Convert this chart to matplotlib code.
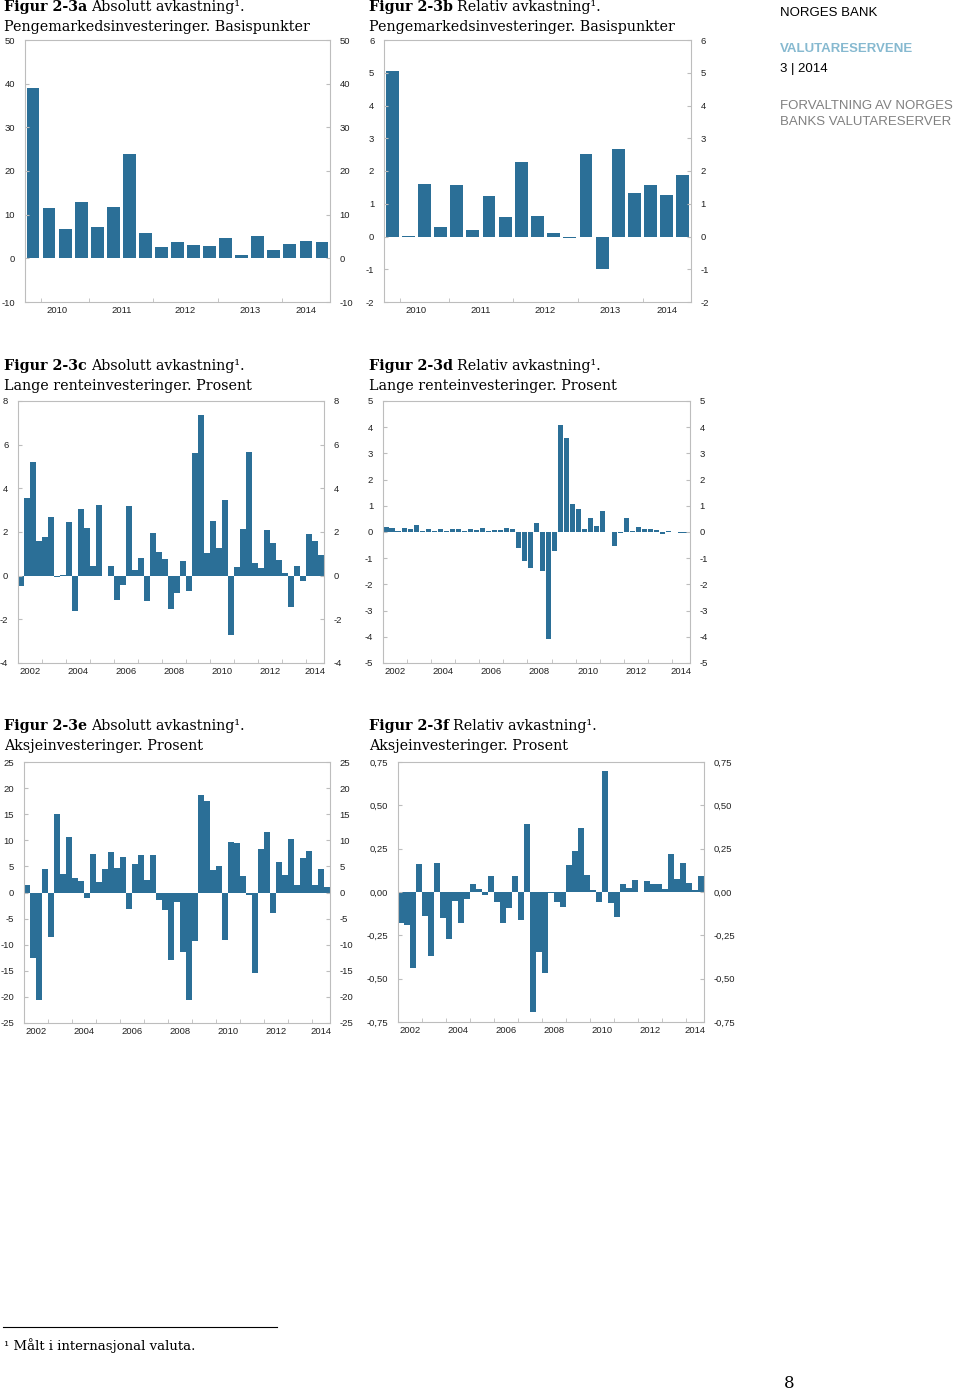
import matplotlib
matplotlib.use("Agg")
import matplotlib.pyplot as plt
import numpy as np

plt.rcParams["axes.unicode_minus"] = False

W, H = 960, 1391
BAR = "#2b6f97"
FRAME = "#bdbdbd"
SERIF = "DejaVu Serif"
SANS = "Liberation Sans"

# --- data: 2010Q1-2014Q3 (a, b), 2002Q1-2014Q3 (c-f) ---
years_short = [2010, 2011, 2012, 2013, 2014]
years_long = [2002, 2004, 2006, 2008, 2010, 2012, 2014]

abs_money = [39.0, 11.5, 6.7, 12.8, 7.1, 11.8, 24.0, 5.8, 2.5, 3.7,
             3.0, 2.8, 4.7, 0.8, 5.0, 2.0, 3.3, 4.0, 3.8]
rel_money = [5.05, 0.02, 1.6, 0.28, 1.57, 0.2, 1.23, 0.6, 2.27, 0.62,
             0.1, -0.05, 2.53, -1.0, 2.67, 1.33, 1.57, 1.26, 1.87]

abs_bonds = [-0.47, 3.55, 5.2, 1.58, 1.78, 2.7, -0.08, 0.05,
             2.45, -1.6, 3.05, 2.2, 0.42, 3.25, -0.03, 0.45,
             -1.1, -0.45, 3.2, 0.28, 0.8, -1.15, 1.97, 1.07,
             0.78, -1.52, -0.8, 0.65, -0.72, 5.62, 7.38, 1.03,
             2.5, 1.27, 3.48, -2.7, 0.38, 2.13, 5.67, 0.6,
             0.37, 2.07, 1.5, 0.7, 0.1, -1.42, 0.45, -0.25,
             1.92, 1.6, 0.95]
rel_bonds = [0.2, 0.17, 0.02, 0.15, 0.1, 0.25, 0.05, 0.12,
             0.02, 0.12, 0.03, 0.12, 0.12, 0.02, 0.1, 0.08,
             0.15, 0.03, 0.07, 0.07, 0.15, 0.1, -0.6, -1.1,
             -1.38, 0.35, -1.5, -4.07, -0.72, 4.1, 3.57, 1.07,
             0.88, 0.1, 0.53, 0.23, 0.82, 0.0, -0.52, -0.02,
             0.52, 0.03, 0.18, 0.12, 0.12, 0.08, -0.08, 0.04,
             0.0, -0.02, -0.03]
abs_equity = [1.4, -12.5, -20.6, 4.5, -8.6, 15.0, 3.6, 10.6,
              2.8, 2.2, -1.0, 7.4, 2.0, 4.5, 7.8, 4.7,
              6.8, -3.1, 5.4, 7.2, 2.3, 7.1, -1.5, -3.3,
              -13.0, -1.9, -11.4, -20.5, -9.3, 18.6, 17.6, 4.3,
              5.0, -9.1, 9.6, 9.5, 3.2, -0.5, -15.4, 8.3,
              11.5, -4.0, 5.9, 3.3, 10.2, 1.4, 6.7, 8.0,
              1.4, 4.5, 1.0]
rel_equity = [-0.18, -0.19, -0.44, 0.16, -0.14, -0.37, 0.17, -0.15,
              -0.27, -0.05, -0.18, -0.04, 0.045, 0.015, -0.015, 0.095,
              -0.06, -0.18, -0.09, 0.095, -0.16, 0.39, -0.69, -0.345,
              -0.465, -0.005, -0.055, -0.085, 0.155, 0.235, 0.37, 0.1,
              0.01, -0.055, 0.7, -0.065, -0.145, 0.045, 0.025, 0.07,
              0.0, 0.065, 0.045, 0.045, 0.015, 0.22, 0.075, 0.17,
              0.05, 0.01, 0.095]

fig = plt.figure(figsize=(W / 100, H / 100), dpi=100)


def px_axes(l, t, r, b):
    return fig.add_axes([l / W, 1 - b / H, (r - l) / W, (b - t) / H])


def bar_chart(ax, values, first_year, label_years, yticks, width,
              fmt=None, extra_tick=False):
    x = np.arange(len(values))
    ax.bar(x, values, width=width, color=BAR, linewidth=0)
    ax.set_xlim(-0.5, len(values) - 0.5)
    ax.set_ylim(yticks[0], yticks[-1])
    ax.set_yticks(yticks)
    if fmt:
        ax.set_yticklabels([fmt(v) for v in yticks])
    # year boundaries as minor ticks, year names at mid-year
    n_years = (len(values) + 3) // 4
    minor = [4 * k - 0.5 for k in range(1, n_years)]
    if extra_tick:
        minor = [0.5] + minor
    ax.set_xticks(minor, minor=True)
    pos = []
    for yr in label_years:
        i = (yr - first_year) * 4
        pos.append(min(i + 1.5, (i + len(values) - 1) / 2))
    ax.set_xticks(pos)
    ax.set_xticklabels([str(y) for y in label_years])
    ax.tick_params(axis="x", which="major", length=0, pad=3,
                   labelsize=6.8, labelcolor="#222222")
    ax.tick_params(axis="x", which="minor", length=3, direction="in",
                   color=FRAME)
    ax.tick_params(axis="y", which="major", length=3, direction="in",
                   color=FRAME, left=True, right=True, labelleft=True,
                   labelright=True, labelsize=6.8, labelcolor="#222222",
                   pad=7)
    for s in ax.spines.values():
        s.set_color(FRAME)
        s.set_linewidth(0.8)
    for lab in ax.get_xticklabels() + ax.get_yticklabels():
        lab.set_fontfamily(SANS)


def comma(v):
    return f"{v:.2f}".replace(".", ",")


ax_a = px_axes(25, 40, 330, 302)
bar_chart(ax_a, abs_money, 2010, years_short, list(range(-10, 51, 10)), 0.8,
          extra_tick=True)
ax_b = px_axes(384, 40, 691, 302)
bar_chart(ax_b, rel_money, 2010, years_short, list(range(-2, 7)), 0.8,
          extra_tick=True)
ax_c = px_axes(18, 401, 324, 663)
bar_chart(ax_c, abs_bonds, 2002, years_long, list(range(-4, 9, 2)), 0.85)
ax_d = px_axes(383, 401, 690, 663)
bar_chart(ax_d, rel_bonds, 2002, years_long, list(range(-5, 6)), 0.85)
ax_e = px_axes(24, 762, 330, 1023)
bar_chart(ax_e, abs_equity, 2002, years_long, list(range(-25, 26, 5)), 0.85)
ax_f = px_axes(398, 762, 704, 1022)
bar_chart(ax_f, rel_equity, 2002, years_long,
          [-0.75, -0.5, -0.25, 0, 0.25, 0.5, 0.75], 0.85, fmt=comma)

# --- titles (bold figure number followed by regular text) ---
renderer = fig.canvas.get_renderer()
TSIZE = 10.3


def title(x, y, num, rest, line2):
    t = fig.text(x / W, 1 - y / H, num, fontsize=TSIZE, fontweight="bold",
                 family=SERIF, va="center")
    bb = t.get_window_extent(renderer)
    fig.text(bb.x1 / W + 4 / W, 1 - y / H, rest, fontsize=TSIZE,
             family=SERIF, va="center")
    fig.text(x / W, 1 - (y + 20) / H, line2, fontsize=TSIZE, family=SERIF,
             va="center")


title(4, 7, "Figur 2-3a", "Absolutt avkastning¹.",
      "Pengemarkedsinvesteringer. Basispunkter")
title(369, 7, "Figur 2-3b", "Relativ avkastning¹.",
      "Pengemarkedsinvesteringer. Basispunkter")
title(4, 366, "Figur 2-3c", "Absolutt avkastning¹.",
      "Lange renteinvesteringer. Prosent")
title(369, 366, "Figur 2-3d", "Relativ avkastning¹.",
      "Lange renteinvesteringer. Prosent")
title(4, 726, "Figur 2-3e", "Absolutt avkastning¹.",
      "Aksjeinvesteringer. Prosent")
title(369, 726, "Figur 2-3f", "Relativ avkastning¹.",
      "Aksjeinvesteringer. Prosent")

# --- page header ---
HSIZE = 9.5
fig.text(780 / W, 1 - 13 / H, "NORGES BANK", fontsize=HSIZE, family=SANS,
         va="center")
fig.text(780 / W, 1 - 49 / H, "VALUTARESERVENE", fontsize=HSIZE, family=SANS,
         fontweight="bold", color="#86b9d0", va="center")
fig.text(780 / W, 1 - 69 / H, "3 | 2014", fontsize=HSIZE, family=SANS,
         va="center")
fig.text(780 / W, 1 - 106 / H, "FORVALTNING AV NORGES", fontsize=HSIZE,
         family=SANS, color="#808080", va="center")
fig.text(780 / W, 1 - 122 / H, "BANKS VALUTARESERVER", fontsize=HSIZE,
         family=SANS, color="#808080", va="center")

# --- footnote and page number ---
fig.add_artist(plt.Line2D([3 / W, 277 / W], [1 - 1327 / H, 1 - 1327 / H],
                          color="black", linewidth=0.8))
fig.text(4 / W, 1 - 1346 / H, "¹ Målt i internasjonal valuta.", fontsize=9.5,
         family=SERIF, va="center")
fig.text(784 / W, 1 - 1383 / H, "8", fontsize=12, family=SERIF, va="center")

fig.savefig("out.png", dpi=100)
